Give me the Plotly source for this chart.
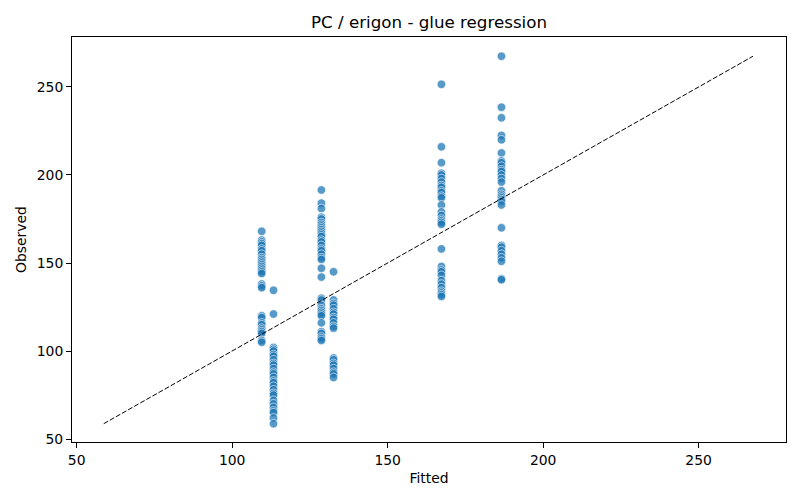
import numpy as np
import plotly.graph_objects as go

# fitted value of each group (one column of points per group)
fitted_groups = [109.5, 113.3, 128.7, 132.6, 167.3, 186.6]

# observed values in each group
observed_groups = [
    [168, 163, 162, 161, 160, 158, 157, 155, 153, 152, 151, 150, 149, 148,
     147, 146, 145, 144, 138, 137, 136,
     120, 119, 116, 115, 113, 112, 111, 110, 106, 105],
    [134.5, 121, 102, 101, 100, 98, 97, 95, 93, 92, 90, 88, 87, 85, 83, 82,
     80, 78, 76, 75, 72, 70, 68, 66, 65, 62, 58.7],
    [191.5, 184, 181, 176, 175, 173, 172, 171, 170, 169, 168, 167, 166, 165,
     163, 162, 160, 158, 157, 155, 153, 152, 147, 142,
     130, 129, 126, 124, 123, 122, 121, 120, 116, 111, 110, 108, 107, 106],
    [145, 129, 127, 126, 124, 122, 121, 119, 118, 116, 114, 113,
     96, 95, 93, 92, 90, 88, 87, 85],
    [251.5, 216, 207, 201, 200, 198, 196, 194, 193, 191, 190, 188, 187, 183,
     179, 177, 175, 174, 173, 172, 158,
     148, 146, 145, 143, 140, 138, 136, 134, 133, 132, 131],
    [267.5, 238.5, 232.5, 222.5, 220, 212.5, 208, 207, 205, 203, 202, 200,
     198, 196, 191, 189, 188, 187, 186, 185, 183, 170,
     160, 159, 157, 155, 153, 151, 141, 140.5],
]

fitted = []
observed = []
for f, obs in zip(fitted_groups, observed_groups):
    fitted += [f] * len(obs)
    observed += obs

lo = min(min(fitted), min(observed))
hi = max(max(fitted), max(observed))

fig = go.Figure()

# puntos
fig.add_trace(go.Scatter(x=fitted, y=observed, mode="markers",
                         marker=dict(size=8.5, color="rgba(31,119,180,0.75)",
                                     line=dict(width=0.6, color="white")),
                         showlegend=False))

# linea y = x
fig.add_trace(go.Scatter(x=[lo, hi], y=[lo, hi], mode="lines",
                         line=dict(color="black", width=1, dash="5px,2px"),
                         showlegend=False))

font = "DejaVu Sans"
fig.update_layout(
    width=800, height=500,
    margin=dict(l=72, r=14, t=37, b=58),
    paper_bgcolor="white", plot_bgcolor="white",
    font=dict(family=font, size=13.9, color="black"),
    title=dict(text="PC / erigon - glue regression", x=0.5, xref="paper",
               xanchor="center", y=0.955, yanchor="middle",
               font=dict(size=16.7)),
)

axis_style = dict(showgrid=False, zeroline=False, showline=True, mirror=True,
                  linecolor="black", linewidth=1, ticks="outside", ticklen=5,
                  tickcolor="black", tickfont=dict(size=13.9))
fig.update_xaxes(range=[48.5, 278.1], tickvals=[50, 100, 150, 200, 250],
                 title=dict(text="Fitted", font=dict(size=13.9), standoff=6),
                 **axis_style)
fig.update_yaxes(range=[48.3, 278.4], tickvals=[50, 100, 150, 200, 250],
                 title=dict(text="Observed", font=dict(size=13.9), standoff=6),
                 **axis_style)

# sin margen del body para que la figura quede en (0, 0)
fig.write_html("out.html", config={"displayModeBar": False},
               post_script="document.body.style.margin='0';"
                           "document.body.style.overflow='hidden';")
